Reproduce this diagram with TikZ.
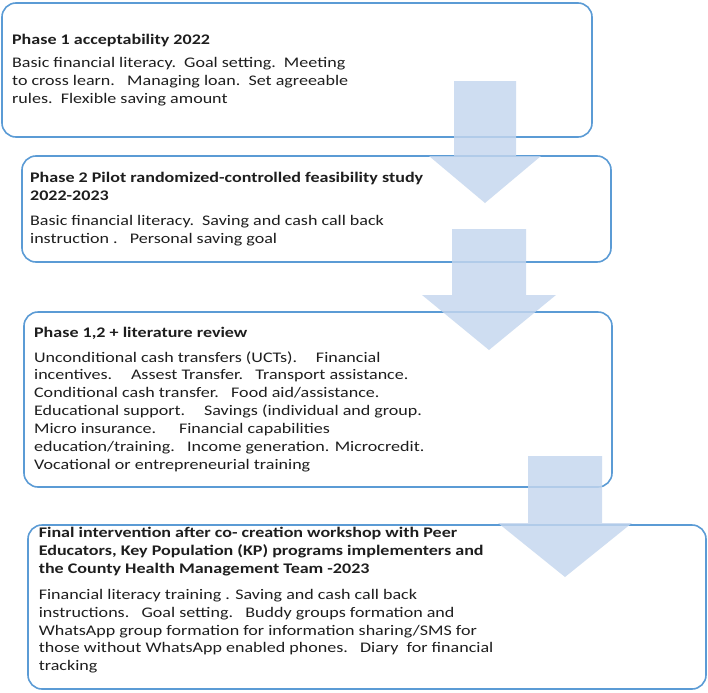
\documentclass[tikz,border=0pt]{standalone}
\usepackage{fontspec}
\setmainfont{Carlito}[FakeStretch=1.23]
\usepackage{tikz}
\usetikzlibrary{positioning}

\definecolor{boxline}{RGB}{91,155,213}
\definecolor{arrowblue}{RGB}{196,214,238}
\definecolor{textgray}{RGB}{30,30,30}

\begin{document}
\begin{tikzpicture}[
x=0.75pt, y=-0.75pt,
phasebox/.style={rectangle, rounded corners=10.5pt, draw=boxline, line width=1.2pt, fill=white},
phasetext/.style={inner sep=0pt, align=left, text=textgray, font=\fontsize{11pt}{13.4pt}\selectfont},
blockarrow/.style={fill=arrowblue, fill opacity=0.82, draw=none},
]
\useasboundingbox (0,0) rectangle (708,693);

%Boxes
\node[phasebox, minimum width=442.5pt, minimum height=100.5pt] (p1) at (297,70) {};
\node[phasebox, minimum width=441.75pt, minimum height=79.5pt] (p2) at (316.5,209) {};
\node[phasebox, minimum width=441pt, minimum height=131.25pt] (p3) at (318,399.5) {};
\node[phasebox, minimum width=508.5pt, minimum height=123pt] (p4) at (367,607) {};

%Texts
\node[phasetext, anchor=west, right=8pt of p1.west] (t1) {%
\textbf{Phase 1 acceptability 2022}\\[4pt]
Basic financial literacy.\ \ Goal setting.\ \ Meeting\\
to cross learn.\ \ \ Managing loan.\ \ Set agreeable\\
rules.\ \ Flexible saving amount};
\node[phasetext, anchor=west, right=6.5pt of p2.west] (t2) {%
\textbf{Phase 2 Pilot randomized-controlled feasibility study}\\
\textbf{2022-2023}\\[5pt]
Basic financial literacy.\ \ Saving and cash call back\\
instruction .\ \ \ Personal saving goal};
\node[phasetext, anchor=west, right=8pt of p3.west] (t3) {%
\textbf{Phase 1,2 + literature review}\\[5pt]
Unconditional cash transfers (UCTs).\quad\ Financial\\
incentives.\quad\ Assest Transfer.\ \ \ Transport assistance.\\
Conditional cash transfer.\ \ \ Food aid/assistance.\\
Educational support.\quad\ Savings (individual and group.\\
Micro insurance.\quad\ \ Financial capabilities\\
education/training.\ \ \ Income generation. Microcredit.\\
Vocational or entrepreneurial training};
\node[phasetext, anchor=west, right=8.5pt of p4.west, yshift=5pt] (t4) {%
\textbf{Final intervention after co- creation workshop with Peer}\\
\textbf{Educators, Key Population (KP) programs implementers and}\\
\textbf{the County Health Management Team -2023}\\[6pt]
Financial literacy training . Saving and cash call back\\
instructions.\ \ \ Goal setting.\ \ \ Buddy groups formation and\\
WhatsApp group formation for information sharing/SMS for\\
those without WhatsApp enabled phones.\ \ \ Diary\ \ for financial\\
tracking};

%Arrows
\foreach \cx/\ya/\yb/\yc/\sw/\hw in {485/81/156/203/31/56, 489/229/295/350/37/67, 565/456/523/577/37/67}
  \fill[blockarrow] (\cx-\sw,\ya) -- (\cx+\sw,\ya) -- (\cx+\sw,\yb) -- (\cx+\hw,\yb)
    -- (\cx,\yc) -- (\cx-\hw,\yb) -- (\cx-\sw,\yb) -- cycle;
\end{tikzpicture}
\end{document}
